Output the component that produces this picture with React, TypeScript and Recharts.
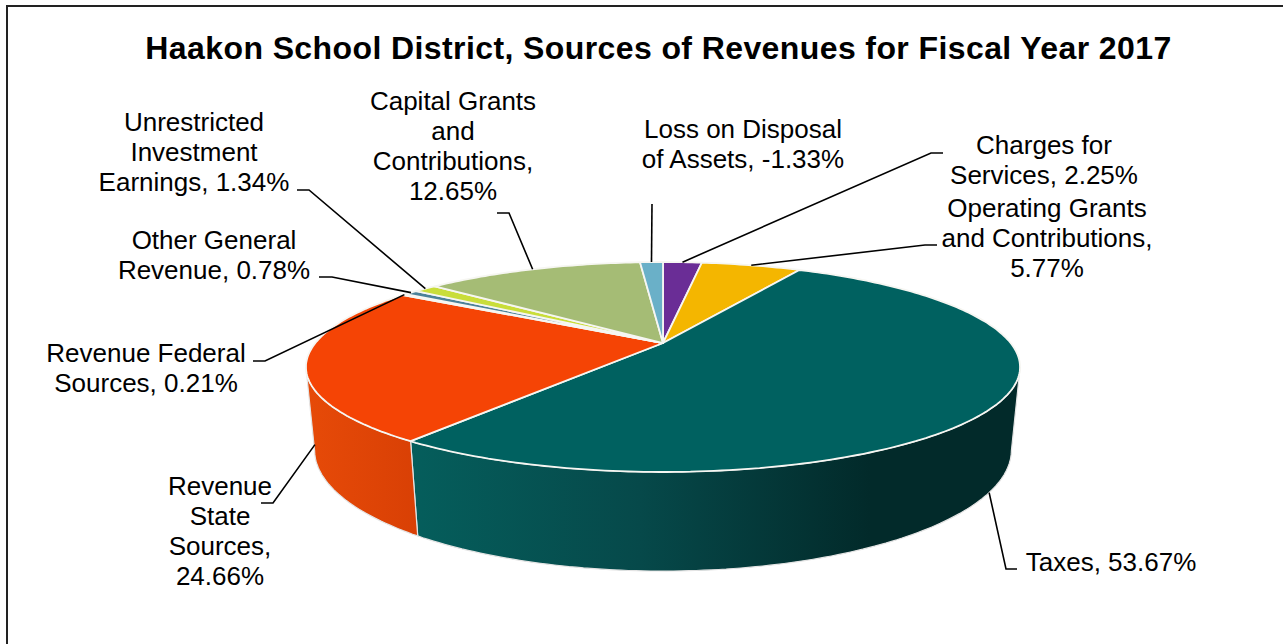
import React from "react";
import { PieChart, Pie, Cell } from "recharts";

const categories = [
  "Charges for Services",
  "Operating Grants and Contributions",
  "Taxes",
  "Revenue State Sources",
  "Revenue Federal Sources",
  "Other General Revenue",
  "Unrestricted Investment Earnings",
  "Capital Grants and Contributions",
  "Loss on Disposal of Assets",
];
const shares = [2.25, 5.77, 53.67, 24.66, 0.21, 0.78, 1.34, 12.65, -1.33];
const sliceColors = ["#6a2d96", "#f4b600", "#006160", "#f54405", "#b04a30", "#4b8198", "#c9dd3a", "#a5bc75", "#6ab0c8"];
// order of the labels is the same as the categories
const labelLines = [
  ["Charges for", "Services, 2.25%"],
  ["Operating Grants", "and Contributions,", "5.77%"],
  ["Taxes, 53.67%"],
  ["Revenue", "State", "Sources,", "24.66%"],
  ["Revenue Federal", "Sources, 0.21%"],
  ["Other General", "Revenue, 0.78%"],
  ["Unrestricted", "Investment", "Earnings, 1.34%"],
  ["Capital Grants", "and", "Contributions,", "12.65%"],
  ["Loss on Disposal", "of Assets, -1.33%"],
];

const data = categories.map((name, i) => ({ name, value: Math.abs(shares[i]) }));

// label placement: text centre, first baseline, leader start + elbow, leader depth on the wall
const labelLayout = [
  { x: 1044, y: 154, from: [943, 153], elbow: [931, 153], wall: 0 },
  { x: 1047, y: 217, from: [937, 245], elbow: [925, 245], wall: 0 },
  { x: 1111, y: 571, from: [1017, 569], elbow: [1006, 569], wall: 1 },
  { x: 220, y: 495, from: [261, 503], elbow: [273, 503], wall: 1 },
  { x: 146, y: 362, from: [253, 361], elbow: [265, 361], wall: 0 },
  { x: 214, y: 249, from: [319, 277], elbow: [332, 277], wall: 0 },
  { x: 194, y: 131, from: [297, 190], elbow: [309, 190], wall: 0 },
  { x: 453, y: 110, from: [497, 213], elbow: [509, 213], wall: 0 },
  { x: 743, y: 138, from: [652, 204], elbow: [652, 204], wall: 0 },
];

// fake 3D: camera projection of the flat pie
const TILT = 0.2286;
const FLATTEN = 0.2862;
const DEPTH = 81.8;
const SINK = 0.0235;
const FONT = "'Liberation Sans', Arial, sans-serif";

const project = (cx: number, cy: number, r: number, angle: number, z: number) => {
  const a = (angle * Math.PI) / 180;
  const x = Math.cos(a);
  const y = -Math.sin(a);
  const w = 1 - TILT * y + SINK * z;
  return [cx + (r * x) / w, cy + (r * FLATTEN * y + DEPTH * z) / w];
};

const arc = (cx: number, cy: number, r: number, from: number, to: number, z: number) => {
  const n = Math.max(2, Math.ceil(Math.abs(to - from)));
  const pts: string[] = [];
  for (let i = 0; i <= n; i++) {
    const p = project(cx, cy, r, from + ((to - from) * i) / n, z);
    pts.push(`${p[0].toFixed(1)},${p[1].toFixed(1)}`);
  }
  return pts;
};

// visible front part of the rim in recharts angles (start > end, clockwise)
const FRONT_START = -13.2;
const FRONT_END = -166.8;

const Slice3D = (props: any) => {
  const { cx, cy, outerRadius, startAngle, endAngle, fill, name } = props;
  const from = Math.min(startAngle, FRONT_START);
  const to = Math.max(endAngle, FRONT_END);
  const top = arc(cx, cy, outerRadius, startAngle, endAngle, 0);
  let wall = null;
  if (from > to) {
    const upper = arc(cx, cy, outerRadius, from, to, 0);
    const lower = arc(cx, cy, outerRadius, to, from, 1);
    const wallFill = name === "Taxes" ? "url(#wallTaxes)" : "url(#wallState)";
    wall = <polygon points={[...upper, ...lower].join(" ")} fill={wallFill} stroke="#e4e4e4" strokeWidth={1.2} />;
  }
  return (
    <g>
      {wall}
      <polygon points={[`${cx},${cy}`, ...top].join(" ")} fill={fill} stroke="#f6f6f2" strokeWidth={1.8} strokeLinejoin="round" />
    </g>
  );
};

const SliceLabel = (props: any) => {
  const { index, cx, cy, outerRadius, midAngle } = props;
  const layout = labelLayout[index];
  const end = project(cx, cy, outerRadius, midAngle, layout.wall);
  const pts = [layout.from, layout.elbow, end].map((p) => p.join(",")).join(" ");
  return (
    <g>
      <polyline points={pts} fill="none" stroke="#000" strokeWidth={1.6} />
      <text x={layout.x} y={layout.y} textAnchor="middle" fontFamily={FONT} fontSize={26} fill="#000">
        {labelLines[index].map((line, i) => (
          <tspan key={i} x={layout.x} dy={i === 0 ? 0 : 30}>
            {line}
          </tspan>
        ))}
      </text>
    </g>
  );
};

export default function App() {
  return (
    <div style={{ position: "absolute", left: 0, top: 0, width: 1283, height: 644, background: "#fff", overflow: "hidden" }}>
      <div style={{ position: "absolute", left: 6, top: 5, width: 1277, height: 639, borderLeft: "2px solid #222", borderTop: "2px solid #222", boxSizing: "border-box" }} />
      <PieChart width={1283} height={644} margin={{ top: 0, right: 0, bottom: 0, left: 0 }}>
        <defs>
          <linearGradient id="wallTaxes" gradientUnits="userSpaceOnUse" x1="410" y1="0" x2="870" y2="0">
            <stop offset="0%" stopColor="#055e5c" />
            <stop offset="50%" stopColor="#06494a" />
            <stop offset="100%" stopColor="#022a2a" />
          </linearGradient>
          <linearGradient id="wallState" gradientUnits="userSpaceOnUse" x1="310" y1="0" x2="416" y2="0">
            <stop offset="0%" stopColor="#e64a08" />
            <stop offset="100%" stopColor="#d94005" />
          </linearGradient>
        </defs>
        <text x={658.5} y={59} textAnchor="middle" fontFamily={FONT} fontSize={32} fontWeight="bold" letterSpacing={0.4} fill="#000">
          Haakon School District, Sources of Revenues for Fiscal Year 2017
        </text>
        <Pie
          data={data}
          dataKey="value"
          nameKey="name"
          cx={663}
          cy={343}
          innerRadius={0}
          outerRadius={347.6}
          startAngle={90}
          endAngle={-270}
          stroke="none"
          isAnimationActive={false}
          shape={Slice3D}
          label={SliceLabel}
          labelLine={false}
        >
          {data.map((d, i) => (
            <Cell key={d.name} fill={sliceColors[i]} />
          ))}
        </Pie>
      </PieChart>
    </div>
  );
}
